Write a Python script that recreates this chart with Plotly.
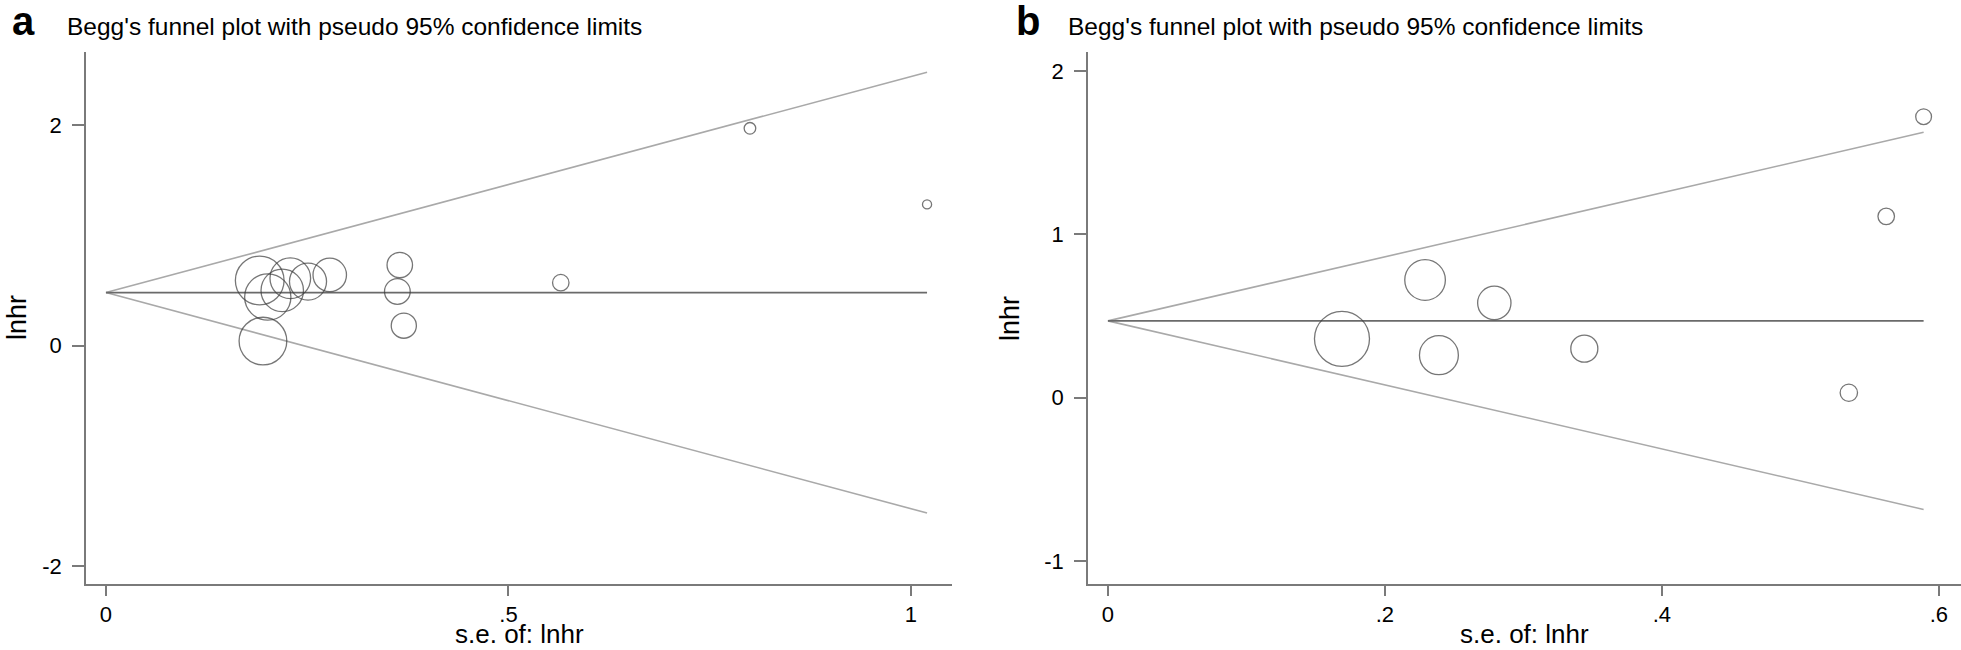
import plotly.graph_objects as go

# ---- data ----
# Panel a
se_a = [0.191, 0.195, 0.201, 0.219, 0.229, 0.251, 0.278, 0.362, 0.365, 0.370, 0.565, 0.800, 1.020]
lnhr_a = [0.59, 0.04, 0.44, 0.50, 0.61, 0.58, 0.64, 0.49, 0.73, 0.18, 0.57, 1.97, 1.28]
pooled_a = 0.48

# Panel b
se_b = [0.169, 0.229, 0.239, 0.279, 0.344, 0.535, 0.562, 0.589]
lnhr_b = [0.36, 0.72, 0.26, 0.58, 0.30, 0.03, 1.11, 1.72]
pooled_b = 0.47

z95 = 1.96

xtick_a = [0, 0.5, 1]
xtext_a = ["0", ".5", "1"]
ytick_a = [-2, 0, 2]
ytext_a = ["-2", "0", "2"]
xtick_b = [0, 0.2, 0.4, 0.6]
xtext_b = ["0", ".2", ".4", ".6"]
ytick_b = [-1, 0, 1, 2]
ytext_b = ["-1", "0", "1", "2"]

title_text = "Begg's funnel plot with pseudo 95% confidence limits"
xlabel = "s.e. of: lnhr"
ylabel = "lnhr"
panel_labels = ["a", "b"]

# ---- styling ----
W, H = 1961, 650
FONT = "Liberation Sans, Arial, Helvetica, sans-serif"
AXIS_COL = "#7a7a7a"
FUNNEL_COL = "#a9a9a9"
POOLED_COL = "#6a6a6a"
MARK_COL = "#3c3c3c"
SIZE_K = 9.3  # marker diameter (px) = SIZE_K / se  (inverse-variance weighting)

fig = go.Figure()


def add_panel(se, y, pooled, xa, ya):
    smax = max(se)
    fig.add_trace(go.Scatter(x=[0, smax], y=[pooled, pooled + z95 * smax], mode="lines",
                             line=dict(color=FUNNEL_COL, width=1.6), xaxis=xa, yaxis=ya,
                             hoverinfo="skip"))
    fig.add_trace(go.Scatter(x=[0, smax], y=[pooled, pooled - z95 * smax], mode="lines",
                             line=dict(color=FUNNEL_COL, width=1.6), xaxis=xa, yaxis=ya,
                             hoverinfo="skip"))
    fig.add_trace(go.Scatter(x=[0, smax], y=[pooled, pooled], mode="lines",
                             line=dict(color=POOLED_COL, width=1.8), xaxis=xa, yaxis=ya,
                             hoverinfo="skip"))
    fig.add_trace(go.Scatter(x=se, y=y, mode="markers", xaxis=xa, yaxis=ya,
                             marker=dict(symbol="circle-open", size=[SIZE_K / s for s in se],
                                         color=MARK_COL, line=dict(width=1.3, color=MARK_COL))))


add_panel(se_a, lnhr_a, pooled_a, "x", "y")
add_panel(se_b, lnhr_b, pooled_b, "x2", "y2")

ydom = [(H - 584) / H, (H - 52) / H]
xdom_a = [86 / W, 952 / W]
xdom_b = [1088 / W, 1.0]
common_axis = dict(showline=True, linecolor=AXIS_COL, linewidth=1.6, ticks="outside",
                   ticklen=12, tickwidth=1.5, tickcolor=AXIS_COL, showgrid=False,
                   zeroline=False, tickfont=dict(family=FONT, size=22, color="#000"),
                   fixedrange=True)
x_axis = dict(common_axis, ticklen=10)

fig.update_layout(
    width=W, height=H, margin=dict(l=0, r=0, t=0, b=0),
    paper_bgcolor="white", plot_bgcolor="white", showlegend=False,
    xaxis=dict(domain=xdom_a, range=[-0.0248, 1.051], tickmode="array",
               tickvals=xtick_a, ticktext=xtext_a, anchor="y", **x_axis),
    yaxis=dict(domain=ydom, range=[-2.163, 2.662], tickmode="array",
               tickvals=ytick_a, ticktext=ytext_a, anchor="x", ticklabelstandoff=6,
               **common_axis),
    xaxis2=dict(domain=xdom_b, range=[-0.0144, 0.616], tickmode="array",
                tickvals=xtick_b, ticktext=xtext_b, anchor="y2", **x_axis),
    yaxis2=dict(domain=ydom, range=[-1.141, 2.116], tickmode="array",
                tickvals=ytick_b, ticktext=ytext_b, anchor="x2", ticklabelstandoff=6,
                **common_axis),
)

ymid = (ydom[0] + ydom[1]) / 2
for lab, lx, tx, xdom, ytx in [(panel_labels[0], 10, 65, xdom_a, 17),
                               (panel_labels[1], 1014, 1066, xdom_b, 1010)]:
    fig.add_annotation(text="<b>%s</b>" % lab, x=lx / W, y=1 - 21 / H, xref="paper", yref="paper",
                       xanchor="left", yanchor="middle", showarrow=False,
                       font=dict(family=FONT, size=40, color="#000"))
    fig.add_annotation(text=title_text, x=tx / W, y=1 - 26 / H, xref="paper", yref="paper",
                       xanchor="left", yanchor="middle", showarrow=False,
                       font=dict(family=FONT, size=24.5, color="#000"))
    # axis titles
    fig.add_annotation(text=xlabel, x=(xdom[0] + xdom[1]) / 2, y=0, xref="paper",
                       yref="paper", xanchor="center", yanchor="bottom", showarrow=False,
                       borderpad=0, font=dict(family=FONT, size=26, color="#000"))
    fig.add_annotation(text=ylabel, x=ytx / W, y=ymid, xref="paper", yref="paper",
                       xanchor="center", yanchor="middle", textangle=-90, showarrow=False,
                       font=dict(family=FONT, size=27, color="#000"))

fig.write_html("out.html", config={"displayModeBar": False},
               post_script="document.body.style.margin='0';document.body.style.padding='0';"
                           "document.body.style.overflow='hidden';")
